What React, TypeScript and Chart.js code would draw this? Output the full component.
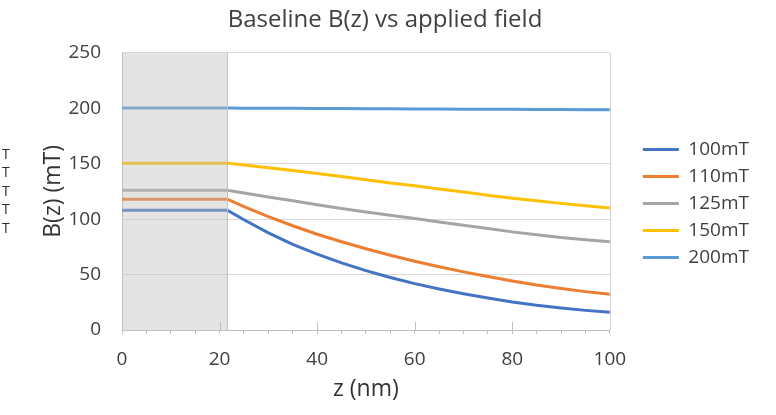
import React, { useEffect, useRef } from 'react';
import { Chart, registerables } from 'chart.js';

Chart.register(...registerables);

// ---- data ----
const chartTitle = 'Baseline B(z) vs applied field';
const xTitle = 'z (nm)';
const yTitle = 'B(z) (mT)';
const seriesLabels = ['100mT', '110mT', '125mT', '150mT', '200mT'];
const seriesColors = ['#4472C4', '#ED7D31', '#A5A5A5', '#FFC000', '#5B9BD5'];
const zValues = [0, 21.6, 25, 30, 35, 40, 45, 50, 55, 60, 65, 70, 75, 80, 85, 90, 95, 100];
const b100 = [108, 108, 99.4, 87.6, 77.3, 68.4, 60.5, 53.5, 47.3, 41.8, 37.0, 32.7, 28.8, 25.3, 22.3, 19.8, 17.7, 16];
const b110 = [118, 118, 111.2, 102.2, 94, 86.4, 79.6, 73.3, 67.4, 62, 57, 52.4, 48.2, 44.2, 40.5, 37.4, 34.6, 32.2];
const b125 = [126, 126, 123.5, 120, 116.5, 113, 109.5, 106.5, 103.5, 100.5, 97.5, 94.5, 91.5, 88.5, 86, 83.5, 81.5, 79.5];
const b150 = [150.5, 150.5, 148.8, 146.3, 143.8, 141.2, 138.5, 135.5, 132.5, 130, 127.2, 124.5, 121.5, 118.8, 116.5, 114.2, 112, 110];
const b200 = [200.2, 200.2, 200.1, 200, 199.9, 199.8, 199.7, 199.6, 199.5, 199.4, 199.3, 199.2, 199.1, 199, 198.9, 198.8, 198.7, 198.6];
const seriesValues = [b100, b110, b125, b150, b200];
const shadeEnd = 21.6;
const xMin = 0;
const xMax = 100;
const yMin = 0;
const yMax = 250;
const yStep = 50;
const xMinorStep = 5;
const xLabelStep = 20;
const sideLetters = ['T', 'T', 'T', 'T', 'T'];

const FONT = '"Open Sans"';
const TEXT = '#404040';

const decor = {
  id: 'decor',
  afterLayout(chart: any) {
    const lg = chart.legend;
    if (lg) {
      lg.left += 25;
      lg.right += 25;
      lg.top -= 4;
      lg.bottom -= 4;
    }
    const tb = chart.titleBlock;
    if (tb) {
      tb.left += 18;
      tb.right += 18;
    }
  },
  afterDatasetsDraw(chart: any) {
    const { ctx, chartArea, scales } = chart;
    const x = scales.x;
    const x0 = x.getPixelForValue(xMin);
    const x1 = x.getPixelForValue(shadeEnd);
    ctx.save();
    ctx.fillStyle = 'rgba(190,190,190,0.42)';
    ctx.fillRect(x0, chartArea.top, x1 - x0, chartArea.bottom - chartArea.top);
    ctx.strokeStyle = '#c2c2c2';
    ctx.lineWidth = 1;
    ctx.beginPath();
    ctx.moveTo(Math.round(x1) + 0.5, chartArea.top);
    ctx.lineTo(Math.round(x1) + 0.5, chartArea.bottom);
    ctx.stroke();
    // right border of plot area
    ctx.strokeStyle = '#d0d0d0';
    ctx.beginPath();
    ctx.moveTo(Math.round(chartArea.right) + 0.5, chartArea.top);
    ctx.lineTo(Math.round(chartArea.right) + 0.5, chartArea.bottom);
    ctx.stroke();
    // major tick marks crossing into the plot
    ctx.strokeStyle = '#bfbfbf';
    x.ticks.forEach((t: any) => {
      if (t.value % xLabelStep === 0 && t.value > xMin && t.value < xMax) {
        const px = Math.round(x.getPixelForValue(t.value)) + 0.5;
        ctx.beginPath();
        ctx.moveTo(px, chartArea.bottom);
        ctx.lineTo(px, chartArea.bottom - 8);
        ctx.stroke();
      }
    });
    ctx.restore();
  },
  afterDraw(chart: any) {
    const { ctx } = chart;
    ctx.save();
    ctx.font = `14px ${FONT}`;
    ctx.fillStyle = '#2b2b2b';
    ctx.textBaseline = 'middle';
    ctx.textAlign = 'left';
    sideLetters.forEach((s, i) => {
      ctx.fillText(s, 2, 155 + i * 18.4);
    });
    ctx.restore();
  },
};

export default function App() {
  const ref = useRef<HTMLCanvasElement>(null);
  useEffect(() => {
    const canvas = ref.current;
    if (!canvas) return;
    const datasets = seriesLabels.map((label, k) => ({
      label,
      data: zValues.map((z, i) => ({ x: z, y: seriesValues[k][i] })),
      borderColor: seriesColors[k],
      backgroundColor: seriesColors[k],
      borderWidth: 3,
      pointRadius: 0,
      pointHoverRadius: 0,
      tension: 0,
      fill: false,
    }));
    const chart = new Chart(canvas, {
      type: 'line',
      data: { datasets },
      options: {
        responsive: false,
        animation: false,
        devicePixelRatio: 1,
        layout: { padding: { left: 0, right: 42, top: 0, bottom: 0 } },
        plugins: {
          title: {
            display: true,
            text: chartTitle,
            color: TEXT,
            font: { family: FONT, size: 24, weight: 'normal' },
            padding: { top: 6, bottom: 18 },
          },
          legend: {
            display: true,
            position: 'right',
            align: 'center',
            labels: {
              usePointStyle: true,
              pointStyle: 'line',
              pointStyleWidth: 36,
              boxHeight: 19,
              padding: 8,
              color: TEXT,
              font: { family: FONT, size: 19 },
            },
          },
          tooltip: { enabled: false },
        },
        scales: {
          x: {
            type: 'linear',
            min: xMin,
            max: xMax,
            afterFit: (s: any) => { s.height = 85; },
            border: { display: true, color: '#bfbfbf', width: 1 },
            grid: { drawOnChartArea: false, drawTicks: true, tickLength: 4, color: '#bfbfbf' },
            ticks: {
              stepSize: xMinorStep,
              autoSkip: false,
              maxRotation: 0,
              padding: 14,
              color: TEXT,
              font: { family: FONT, size: 19 },
              callback: (v: any) => (Number(v) % xLabelStep === 0 ? String(v) : ''),
            },
            title: {
              display: true,
              text: xTitle,
              color: '#333333',
              font: { family: FONT, size: 23 },
              padding: { top: 0, bottom: 12 },
            },
          },
          y: {
            type: 'linear',
            min: yMin,
            max: yMax,
            afterFit: (s: any) => { s.width = 122; },
            border: { display: true, color: '#bfbfbf', width: 1 },
            grid: { drawTicks: false, color: '#d9d9d9' },
            ticks: {
              stepSize: yStep,
              padding: 21,
              color: TEXT,
              font: { family: FONT, size: 19 },
            },
            title: {
              display: true,
              text: yTitle,
              color: '#333333',
              font: { family: FONT, size: 23 },
              padding: { top: 40, bottom: 0 },
            },
          },
        },
      },
      plugins: [decor],
    } as any);
    return () => chart.destroy();
  }, []);
  return (
    <div style={{ position: 'fixed', left: 0, top: 0, width: 776, height: 415, background: '#ffffff' }}>
      <canvas ref={ref} width={776} height={415} style={{ display: 'block', width: 776, height: 415 }} />
    </div>
  );
}
